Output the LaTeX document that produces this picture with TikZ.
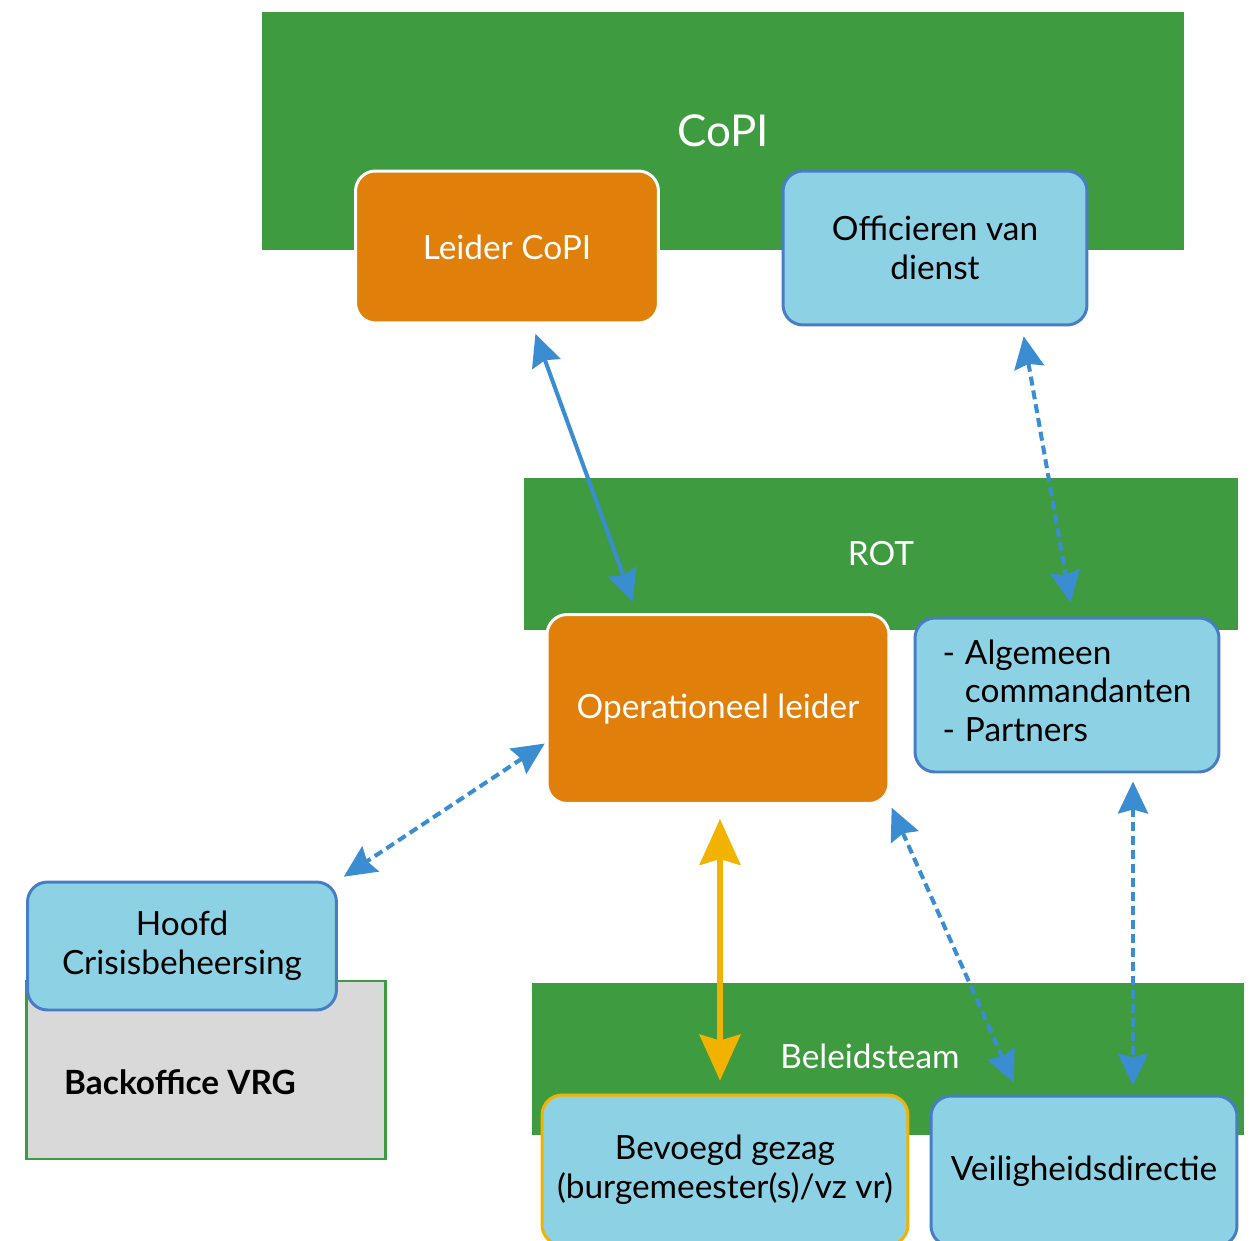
\documentclass[tikz,border=0pt]{standalone}
\usepackage{fontspec}
\setmainfont{Lato}
\usetikzlibrary{arrows.meta,calc}

\definecolor{band}{RGB}{63,155,63}
\definecolor{oranje}{RGB}{224,127,10}
\definecolor{lichtblauw}{RGB}{141,210,228}
\definecolor{rand}{RGB}{72,124,196}
\definecolor{pijl}{RGB}{58,141,208}
\definecolor{geel}{RGB}{242,179,0}

\begin{document}
\begin{tikzpicture}[x=0.02cm, y=-0.02cm,
    font=\fontsize{19}{22}\selectfont,
    groep/.style={rectangle, fill=band, text=white, inner sep=0pt},
    leider/.style={rectangle, rounded corners=0.4cm, fill=oranje, draw=white, line width=1.7pt, text=white, align=center},
    lid/.style={rectangle, rounded corners=0.4cm, fill=lichtblauw, draw=rand, line width=1.7pt, align=center},
    link/.style={draw=pijl, line width=2.3pt, {Stealth[length=0.64cm,width=0.6cm,inset=0.08cm]}-{Stealth[length=0.64cm,width=0.6cm,inset=0.08cm]}},
    los/.style={link, dash pattern=on 0.18cm off 0.1cm},
    gezag/.style={draw=geel, line width=2.9pt, {Stealth[length=0.92cm,width=0.82cm,inset=0.12cm]}-{Stealth[length=0.92cm,width=0.82cm,inset=0.12cm]}}]
    \useasboundingbox (0,0) rectangle (1255,1241);

    \node[groep, minimum width=18.44cm, minimum height=4.76cm, font=\fontsize{25}{29}\selectfont] (copi) at (723,131) {CoPI};
    \node[groep, minimum width=14.28cm, minimum height=3.04cm] (rot) at (881,554) {ROT};
    \node[groep, minimum width=14.26cm, minimum height=3.04cm] (bt) at (888,1059) {};
    \node[text=white] (bttxt) at (870,1056) {Beleidsteam};

    \node[leider, minimum width=6.06cm, minimum height=3.04cm] (lc) at (507,247) {Leider CoPI};
    \node[lid, minimum width=6.08cm, minimum height=3.08cm] (ovd) at (935,248) {Officieren van\\dienst};

    \node[leider, minimum width=6.84cm, minimum height=3.78cm] (ol) at (718,709) {Operationeel leider};
    \node[lid, minimum width=6.08cm, minimum height=3.08cm] (ac) at (1067,695)
        {\begin{tabular}{@{}l@{\hspace{0.3em}}l@{}}-&Algemeen\\&commandanten\\-&Partners\end{tabular}};

    \node[rectangle, fill=black!15, draw=band, line width=1.4pt, minimum width=7.18cm, minimum height=3.56cm] (bo) at (206,1070) {};
    \node[font=\fontsize{19}{22}\selectfont\bfseries] (botxt) at (180,1082) {Backoffice VRG};
    \node[lid, minimum width=6.18cm, minimum height=2.56cm] (hcb) at (182,946) {Hoofd\\Crisisbeheersing};

    \node[lid, draw=geel, minimum width=7.32cm, minimum height=3.0cm] (bg) at (725,1170) {Bevoegd gezag\\(burgemeester(s)/vz vr)};
    \node[lid, minimum width=6.12cm, minimum height=3.0cm] (vd) at (1084,1171) {Veiligheidsdirectie};

    \draw[link, shorten <=0.2cm, shorten >=0.24cm] ([xshift=0.5cm]lc.south) -- ([xshift=-1.62cm]ol.north);
    \draw[los, shorten <=0.2cm, shorten >=0.28cm] ([xshift=1.74cm]ovd.south) -- ([xshift=0.12cm]ac.north);
    \draw[los, shorten <=0.02cm, shorten >=0.14cm] ([yshift=-0.68cm]ol.west) -- (hcb.north east);
    \draw[gezag, shorten <=0.28cm, shorten >=0.26cm] ([xshift=0.04cm]ol.south) -- ([xshift=0.04cm]ol.south |- bg.north);
    \draw[los, shorten <=0.06cm, shorten >=0.26cm] (ol.south east) -- ([xshift=-1.3cm]vd.north);
    \draw[los, shorten <=0.16cm, shorten >=0.18cm] ([xshift=1.32cm]ac.south) -- ([xshift=1.32cm]ac.south |- vd.north);
\end{tikzpicture}
\end{document}
